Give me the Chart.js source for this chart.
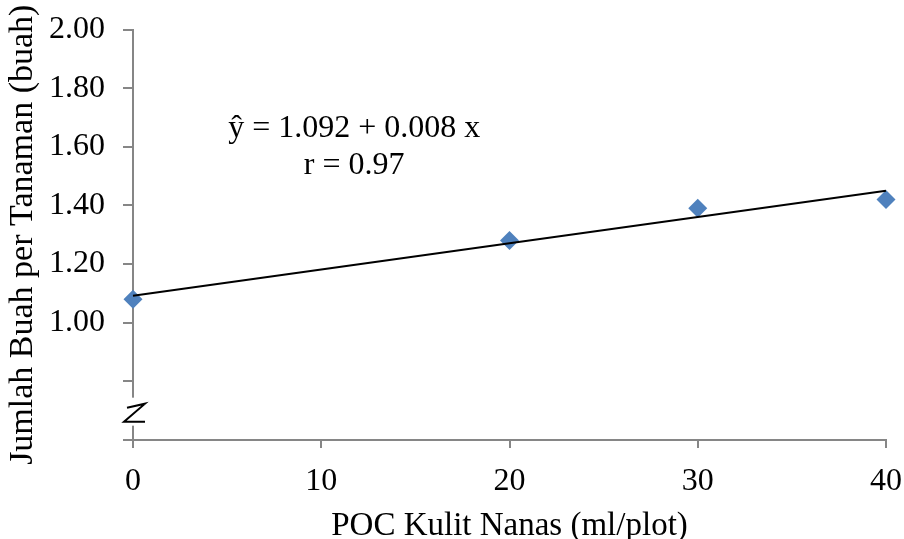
<!DOCTYPE html>
<html lang="id">
<head>
    <meta charset="UTF-8">
    <title>Jumlah Buah per Tanaman</title>
    <script src="https://cdn.jsdelivr.net/npm/chart.js"></script>
    <style>
        html, body { margin: 0; padding: 0; background: #fff; }
        .chart-container { width: 904px; height: 539px; }
    </style>
</head>
<body>
    <div class="chart-container">
        <canvas id="myChartBuah"></canvas>
    </div>

<script>
    // data
    var dosisPOC = [0, 20, 30, 40]
    var jumlahBuah = [1.08, 1.28, 1.39, 1.42]
    var garisX = [0, 40]
    var garisY = [1.092, 1.45]
    var persamaan = ['\u0177 = 1.092 + 0.008 x', 'r = 0.97']

    var FONT = 'Liberation Serif, Times New Roman, serif'
    var ABU = '#868686'

    // little "z" break mark on the y axis
    const axisBreak = {
        id: 'axisBreak',
        afterDraw(chart) {
            const ctx = chart.ctx
            const x0 = chart.scales.x.getPixelForValue(0)
            const yb = chart.scales.y.getPixelForValue(0.7)
            ctx.save()
            ctx.fillStyle = '#fff'
            ctx.fillRect(x0 - 3, yb - 13, 6, 28)
            ctx.strokeStyle = '#000'
            ctx.lineWidth = 2
            ctx.beginPath()
            ctx.moveTo(x0 - 6, yb - 3)
            ctx.lineTo(x0 + 12, yb - 7)
            ctx.lineTo(x0 - 9, yb + 11)
            ctx.lineTo(x0 + 12, yb + 11)
            ctx.stroke()
            ctx.restore()
        }
    }

    const equationText = {
        id: 'equationText',
        afterDatasetsDraw(chart) {
            const ctx = chart.ctx
            const xs = chart.scales.x
            const ys = chart.scales.y
            ctx.save()
            ctx.fillStyle = '#000'
            ctx.font = '32px ' + FONT
            ctx.textAlign = 'center'
            ctx.textBaseline = 'middle'
            ctx.fillText(persamaan[0], xs.getPixelForValue(11.75), ys.getPixelForValue(1.662))
            ctx.fillText(persamaan[1], xs.getPixelForValue(11.75), ys.getPixelForValue(1.535))
            ctx.restore()
        }
    }

    function ctxBuah() {
        const ctx = document.getElementById('myChartBuah').getContext('2d')
        const data = {
            datasets: [
                {
                    label: 'Garis regresi',
                    data: garisX.map((x, i) => ({ x: x, y: garisY[i] })),
                    showLine: true,
                    borderColor: '#000',
                    borderWidth: 2,
                    pointRadius: 0,
                    clip: false,
                    order: 0
                },
                {
                    label: 'Jumlah buah',
                    data: dosisPOC.map((x, i) => ({ x: x, y: jumlahBuah[i] })),
                    pointStyle: 'rectRot',
                    pointRadius: 9.5,
                    backgroundColor: '#4F81BD',
                    borderColor: '#4F81BD',
                    borderWidth: 0,
                    clip: false,
                    order: 1
                }
            ]
        }

        const config = {
            type: 'scatter',
            data: data,
            plugins: [axisBreak, equationText],
            options: {
                responsive: true,
                maintainAspectRatio: false,
                animation: false,
                layout: { padding: { top: 29.5, right: 0, bottom: 0, left: 0 } },
                plugins: {
                    legend: { display: false },
                    tooltip: { enabled: false }
                },
                scales: {
                    x: {
                        type: 'linear',
                        min: 0,
                        max: 40,
                        afterFit: s => { s.height = 99; s.paddingRight = 18; s.paddingLeft = 0 },
                        border: { display: true, color: ABU, width: 2 },
                        grid: { drawOnChartArea: false, color: ABU, lineWidth: 2, tickLength: 8 },
                        ticks: { stepSize: 10, color: '#000', padding: 14, maxRotation: 0, font: { family: FONT, size: 32 } },
                        title: {
                            display: true,
                            text: 'POC Kulit Nanas (ml/plot)',
                            color: '#000',
                            font: { family: FONT, size: 33, lineHeight: 0.76 },
                            padding: { top: 0, bottom: 0 }
                        }
                    },
                    y: {
                        min: 0.6,
                        max: 2.0,
                        afterFit: s => { s.width = 133; s.paddingTop = 0; s.paddingBottom = 0 },
                        border: { display: true, color: ABU, width: 2 },
                        grid: { drawOnChartArea: false, color: ABU, lineWidth: 2, tickLength: 10 },
                        ticks: {
                            stepSize: 0.2,
                            color: '#000',
                            padding: 18,
                            font: { family: FONT, size: 32 },
                            callback: v => v >= 0.99 ? v.toFixed(2) : ''
                        },
                        title: {
                            display: true,
                            text: 'Jumlah Buah per Tanaman (buah)',
                            color: '#000',
                            font: { family: FONT, size: 34, lineHeight: 1 },
                            padding: { top: 6, bottom: 0 }
                        }
                    }
                }
            }
        }

        new Chart(ctx, config)
    }

    ctxBuah()
</script>
</body>
</html>
